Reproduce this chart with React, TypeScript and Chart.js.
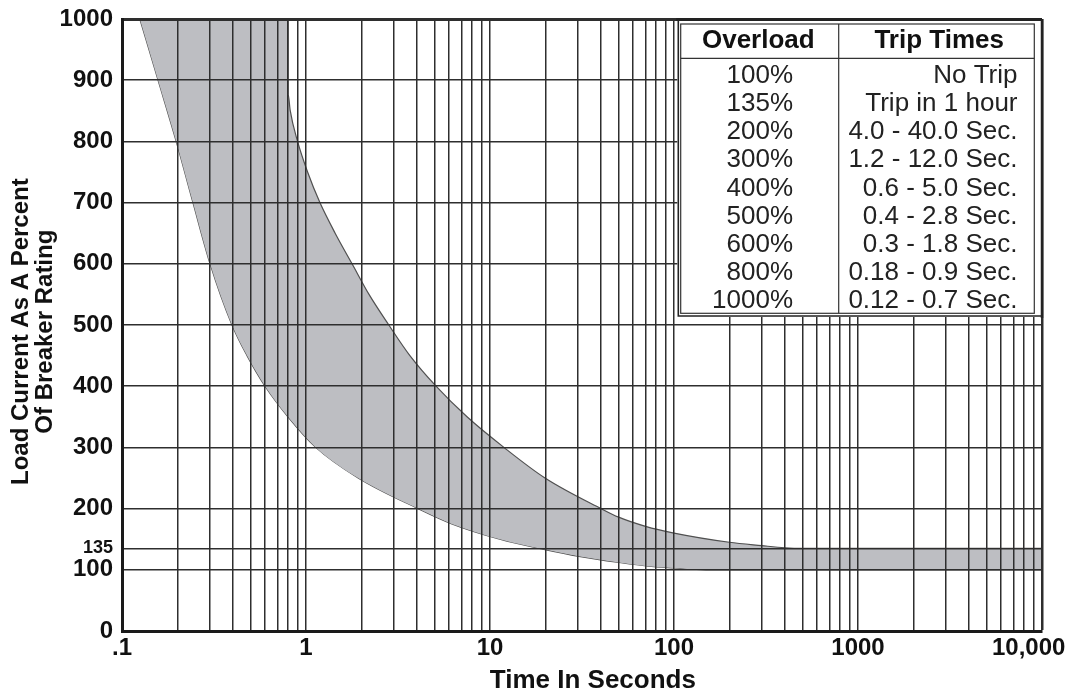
import React, { useEffect, useRef } from 'react';
import { Chart, registerables } from 'chart.js';

Chart.register(...registerables);

// Lower boundary of the trip band (minimum trip time), seconds vs % load
const lowerTimes = [0.125, 0.157, 0.197, 0.243, 0.301, 0.396, 0.478, 0.599, 0.798, 1.13, 1.92, 4.06, 6.2, 11.3, 19.9, 30.4, 50.2, 72, 100, 149, 10000];
const lowerLoads = [1000, 900, 800, 700, 600, 500, 450, 400, 350, 300, 250, 200, 175, 150, 133, 122, 112, 106, 103, 100, 100];

// Upper boundary of the trip band (maximum trip time)
const upperTimes = [0.125, 0.8, 0.8, 0.82, 0.9, 1.02, 1.19, 1.44, 1.78, 2.2, 2.82, 3.67, 5.09, 7.5, 11.9, 19.9, 40.1, 50, 70, 100, 200, 300, 400, 500, 10000];
const upperLoads = [1000, 1000, 877, 851, 800, 750, 700, 650, 600, 550, 500, 450, 400, 350, 300, 250, 200, 186, 171, 160, 145, 139.5, 136, 135, 135];

const xLabelValues = [0.1, 1, 10, 100, 1000, 10000];
const xTickLabels = ['.1', '1', '10', '100', '1000', '10,000'];
const yTickValues = [0, 100, 135, 200, 300, 400, 500, 600, 700, 800, 900, 1000];

const tableHeaders = ['Overload', 'Trip Times'];
const overloadLabels = ['100%', '135%', '200%', '300%', '400%', '500%', '600%', '800%', '1000%'];
const tripTimeLabels = ['No Trip', 'Trip in 1 hour', '4.0 - 40.0 Sec.', '1.2 - 12.0 Sec.', '0.6 - 5.0 Sec.', '0.4 - 2.8 Sec.', '0.3 - 1.8 Sec.', '0.18 - 0.9 Sec.', '0.12 - 0.7 Sec.'];

const FONT = "'Liberation Sans', Arial, Helvetica, sans-serif";
const INK = '#111';
const GRID = '#2e2e2e';

const xGridValues: number[] = [];
for (let e = -1; e <= 3; e++) {
  for (let m = 1; m <= 9; m++) xGridValues.push(Number((m * Math.pow(10, e)).toPrecision(3)));
}
xGridValues.push(10000);

const tablePlugin = {
  id: 'tripTable',
  afterDraw(chart: any) {
    const { ctx, chartArea: ca } = chart;
    const R = ca.right;
    const T = ca.top;
    const oL = R - 363.7;
    const oB = T + 297;
    const iL = R - 361.3;
    const iR = R - 7.7;
    const iT = T + 5;
    const iB = T + 294.3;
    const colX = R - 203.3;
    const headY = T + 39.3;
    ctx.save();
    ctx.fillStyle = '#fff';
    ctx.fillRect(oL - 1, T, R - oL + 1, oB - T + 1);
    ctx.strokeStyle = '#222';
    ctx.lineWidth = 1.6;
    ctx.beginPath();
    ctx.moveTo(oL, T);
    ctx.lineTo(oL, oB);
    ctx.lineTo(R, oB);
    ctx.stroke();
    ctx.lineWidth = 3;
    ctx.beginPath();
    ctx.moveTo(oL - 2, T + 0.5);
    ctx.lineTo(R, T + 0.5);
    ctx.stroke();
    ctx.lineWidth = 2.5;
    ctx.beginPath();
    ctx.moveTo(R, T);
    ctx.lineTo(R, oB + 2);
    ctx.stroke();
    ctx.lineWidth = 1.2;
    ctx.strokeStyle = '#333';
    ctx.strokeRect(iL, iT, iR - iL, iB - iT);
    ctx.beginPath();
    ctx.moveTo(iL, headY);
    ctx.lineTo(iR, headY);
    ctx.moveTo(colX, iT);
    ctx.lineTo(colX, iB);
    ctx.stroke();
    ctx.fillStyle = INK;
    ctx.textBaseline = 'middle';
    ctx.font = `bold 26px ${FONT}`;
    ctx.textAlign = 'center';
    ctx.fillText(tableHeaders[0], R - 283.7, T + 21.5);
    ctx.fillText(tableHeaders[1], R - 102.8, T + 21.5);
    ctx.font = `26px ${FONT}`;
    ctx.fillStyle = '#222';
    ctx.textAlign = 'right';
    for (let i = 0; i < overloadLabels.length; i++) {
      const y = T + 57 + i * 28.1;
      ctx.fillText(overloadLabels[i], R - 249, y);
      ctx.fillText(tripTimeLabels[i], R - 24.5, y);
    }
    ctx.restore();
  },
};

export default function App() {
  const ref = useRef<HTMLCanvasElement>(null);

  useEffect(() => {
    const canvas = ref.current;
    if (!canvas) return;
    Chart.defaults.font.family = FONT;
    Chart.defaults.color = INK;

    const upper = upperTimes.map((t, i) => ({ x: t, y: upperLoads[i] }));
    const lower = lowerTimes.map((t, i) => ({ x: t, y: lowerLoads[i] }));

    const chart = new Chart(canvas, {
      type: 'line',
      data: {
        datasets: [
          {
            label: 'Maximum trip time',
            data: upper,
            borderColor: '#505050',
            borderWidth: 1.2,
            backgroundColor: '#bdbec2',
            fill: '+1',
            pointRadius: 0,
            cubicInterpolationMode: 'monotone',
          },
          {
            label: 'Minimum trip time',
            data: lower,
            borderColor: '#505050',
            borderWidth: 1.2,
            backgroundColor: '#bdbec2',
            fill: false,
            pointRadius: 0,
            cubicInterpolationMode: 'monotone',
          },
        ],
      },
      options: {
        animation: false,
        responsive: true,
        maintainAspectRatio: false,
        layout: { padding: { top: 19, right: 30, bottom: 0, left: 0 } },
        plugins: {
          legend: { display: false },
          tooltip: { enabled: false },
        },
        scales: {
          x: {
            type: 'logarithmic',
            min: 0.1,
            max: 10000,
            afterBuildTicks: (scale: any) => {
              scale.ticks = xGridValues.map((v) => ({ value: v }));
            },
            afterFit: (scale: any) => {
              scale.height = 63;
              scale.paddingLeft = 0;
              scale.paddingRight = 0;
            },
            grid: {
              z: 1,
              drawTicks: false,
              color: GRID,
              lineWidth: (c: any) => (c.tick && c.tick.value === 10000 ? 2.5 : 1.5),
            },
            border: { display: true, width: 3, color: '#1a1a1a', z: 2 },
            ticks: {
              autoSkip: false,
              maxRotation: 0,
              minRotation: 0,
              padding: 3,
              color: INK,
              font: { size: 24, weight: 'bold' },
              callback: (value: any) => {
                const v = Number(value);
                const i = xLabelValues.findIndex((lv) => Math.abs(Math.log10(lv) - Math.log10(v)) < 1e-6);
                if (i < 0) return '';
                return i === xLabelValues.length - 1 ? xTickLabels[i] + '    ' : xTickLabels[i];
              },
            },
            title: {
              display: true,
              text: '   Time In Seconds',
              color: INK,
              font: { size: 26, weight: 'bold', lineHeight: 1.0 },
              padding: { top: 0, bottom: 0 },
            },
          },
          y: {
            type: 'linear',
            min: 0,
            max: 1000,
            afterBuildTicks: (scale: any) => {
              scale.ticks = yTickValues.map((v) => ({ value: v }));
            },
            afterFit: (scale: any) => {
              scale.width = 122;
              scale.paddingTop = 0;
              scale.paddingBottom = 0;
            },
            grid: {
              z: 1,
              drawTicks: false,
              color: GRID,
              lineWidth: (c: any) => (c.tick && c.tick.value === 1000 ? 3 : 1.5),
            },
            border: { display: true, width: 3, color: '#1a1a1a', z: 2 },
            ticks: {
              autoSkip: false,
              padding: 9,
              color: INK,
              font: (c: any) =>
                c.tick && c.tick.value === 135 ? { size: 18, weight: 'bold' } : { size: 24, weight: 'bold' },
              callback: (value: any) => String(value),
            },
            title: {
              display: true,
              text: ['Load Current As A Percent  ', 'Of Breaker Rating  '],
              color: INK,
              font: { size: 24, weight: 'bold', lineHeight: 0.97 },
              padding: { top: 10, bottom: 0 },
            },
          },
        },
      },
      plugins: [tablePlugin],
    } as any);

    return () => chart.destroy();
  }, []);

  return (
    <div style={{ position: 'fixed', left: 0, top: 0, width: '1072px', height: '694px', background: '#fff' }}>
      <canvas ref={ref} />
    </div>
  );
}
